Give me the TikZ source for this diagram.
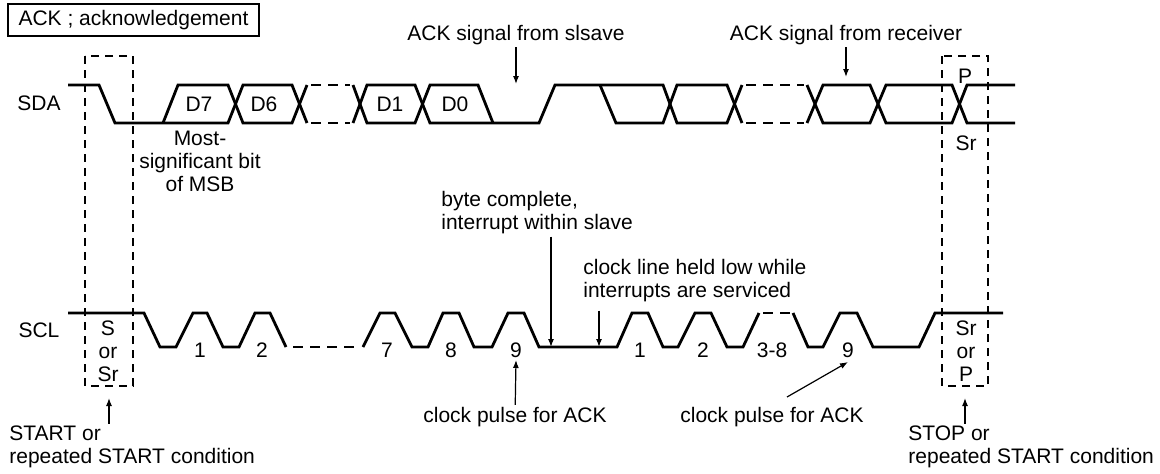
\documentclass[tikz,border=0pt]{standalone}
\usepackage{fontspec}
\setmainfont{Liberation Sans}
\usetikzlibrary{arrows.meta}

\tikzset{
  sig/.style={line width=1.4pt},
  sigdash/.style={sig, dash pattern=on 5pt off 3.5pt},
  cond/.style={line width=0.6pt, dash pattern=on 4pt off 3pt},
  txt/.style={font=\fontsize{10.5}{11.5}\selectfont, inner sep=1pt},
  ptr/.style={line width=0.6pt, -{Latex[length=4pt,width=3pt]}},
}

\begin{document}
\begin{tikzpicture}[x=0.5pt, y=-0.5pt]
  \useasboundingbox (0,0) rectangle (1160,473);

  \node[txt, draw, line width=0.6pt, minimum width=125.5pt, minimum height=16pt] (ackbox) at (133.5,20) {ACK ; acknowledgement};

  % START / STOP windows
  \draw[cond] (85,56) rectangle (133,386);
  \draw[cond] (942,56) rectangle (988,386);
  \coordinate (startbox) at (109,386);
  \coordinate (stopbox) at (965,386);

  \node[txt] (sda) at (39,103) {SDA};
  \node[txt] (scl) at (39,330) {SCL};

  % SDA
  \draw[sig] (68,85) -- (99,85) -- (115,123) -- (228,123) -- (243,85) -- (292,85) -- (307,123);
  \draw[sig] (163,123) -- (178,85) -- (228,85) -- (243,123) -- (292,123) -- (307,85);
  \draw[sigdash] (311,85) -- (350,85);
  \draw[sigdash] (311,123) -- (350,123);
  \draw[sig] (353,85) -- (367,123) -- (415,123) -- (430,85) -- (478,85) -- (493,123);
  \draw[sig] (353,123) -- (367,85) -- (415,85) -- (430,123) -- (539,123) -- (555,85)
    -- (663,85) -- (677,123) -- (727,123) -- (742,85);
  \draw[sig] (600,85) -- (616,123) -- (663,123) -- (677,85) -- (727,85) -- (742,123);
  \draw[sigdash] (746,85) -- (804,85);
  \draw[sigdash] (746,123) -- (804,123);
  \draw[sig] (807,85) -- (823,123) -- (870,123) -- (886,85) -- (952,85) -- (967,123) -- (1015,123);
  \draw[sig] (807,123) -- (823,85) -- (870,85) -- (886,123) -- (952,123) -- (967,85) -- (1015,85);

  \node[txt] (d7) at (199,104) {D7};
  \node[txt] (d6) at (264,104) {D6};
  \node[txt] (d1) at (390,104) {D1};
  \node[txt] (d0) at (455,104) {D0};
  \node[txt, align=center] (msb) at (200,161) {Most-\\significant bit\\of MSB};
  \node[txt] (pdata) at (965,76) {P};
  \node[txt] (srdata) at (966,143) {Sr};

  % SCL
  \draw[sig] (68,313) -- (144,313) -- (160,347) -- (176,347) -- (193,313) -- (207,313) -- (223,347)
    -- (239,347) -- (255,313) -- (270,313) -- (286,347);
  \draw[sigdash] (293,347) -- (360,347);
  \draw[sig] (363,347) -- (380,313) -- (395,313) -- (412,347) -- (428,347) -- (443,313) -- (459,313)
    -- (474,347) -- (492,347) -- (508,313) -- (524,313) -- (539,347) -- (617,347) -- (632,313)
    -- (648,313) -- (663,347) -- (678,347) -- (695,313) -- (711,313) -- (727,347) -- (743,347) -- (759,313);
  \draw[sigdash] (763,313) -- (790,313);
  \draw[sig] (793,313) -- (808,347) -- (823,347) -- (840,313) -- (857,313) -- (873,347) -- (919,347)
    -- (935,313) -- (1003,313);

  \foreach \x/\t [count=\i] in {200/1, 262/2, 387/7, 451/8, 516/9, 640/1, 703/2, 772/3-8, 848/9}
    \node[txt] (pulse\i) at (\x,350) {\t};

  \node[txt, align=center] (scond) at (108,351) {S\\or\\Sr};
  \node[txt, align=center] (pcond) at (966,351) {Sr\\or\\P};

  % notes and pointers
  \node[txt] (ackslave) at (516,35) {ACK signal from slsave};
  \coordinate (ackslavetip) at (516,84);
  \draw[ptr] (ackslave) -- (ackslavetip);

  \node[txt] (ackrecv) at (846,35) {ACK signal from receiver};
  \coordinate (ackrecvtip) at (846,77);
  \draw[ptr] (ackrecv) -- (ackrecvtip);

  \node[txt, anchor=west, align=left] (bytedone) at (439,213) {byte complete,\\interrupt within slave};
  \coordinate (bytedonetip) at (551,347);
  \draw[ptr] (bytedone.south -| bytedonetip) -- (bytedonetip);

  \node[txt, anchor=west, align=left] (held) at (581,281) {clock line held low while\\interrupts are serviced};
  \coordinate (heldtip) at (599,347);
  \draw[ptr] ([yshift=-3pt]held.south -| heldtip) -- (heldtip);

  \node[txt] (ackclk) at (515,417) {clock pulse for ACK};
  \coordinate (ackclktip) at (516,360);
  \draw[ptr] (ackclk) -- (ackclktip);

  \node[txt] (ackclkb) at (772,417) {clock pulse for ACK};
  \coordinate (ackclkbfrom) at (787,397);
  \coordinate (ackclkbtip) at (848,362);
  \draw[ptr] (ackclkbfrom) -- (ackclkbtip);

  \node[txt, anchor=west, align=left] (start) at (7,447) {START or\\repeated START condition};
  \draw[ptr, shorten >=6pt] (start.north -| startbox) -- (startbox);

  \node[txt, anchor=west, align=left] (stop) at (906,447) {STOP or\\repeated START condition};
  \draw[ptr, shorten >=6pt] (stop.north -| stopbox) -- (stopbox);
\end{tikzpicture}
\end{document}
